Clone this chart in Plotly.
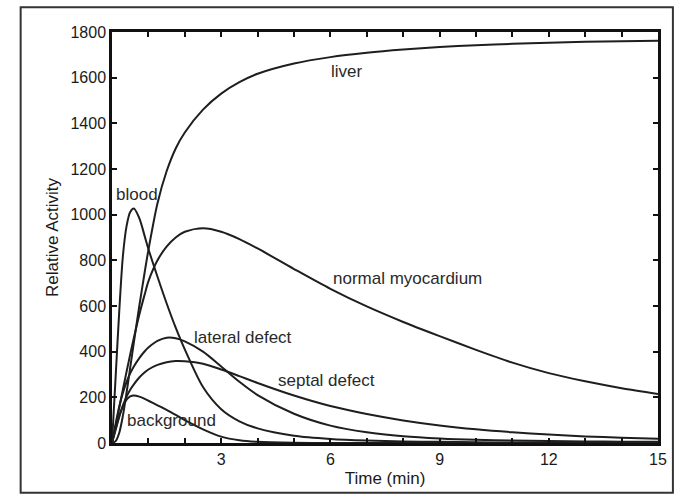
import plotly.graph_objects as go

# Time axis (minutes)
time_min = [0, 0.1, 0.2, 0.3, 0.4, 0.5, 0.6, 0.75, 0.9, 1.0, 1.25, 1.5, 1.75, 2.0,
            2.5, 3.0, 3.5, 4, 5, 6, 7, 8, 9, 10, 11, 12, 13, 14, 15]

liver = [0, 8, 45, 120, 220, 330, 440, 600, 750, 845, 1050, 1190, 1290, 1360,
         1460, 1530, 1580, 1617, 1662, 1690, 1709, 1723, 1734, 1742, 1748, 1753, 1757, 1760, 1762]

blood = [0, 290, 580, 820, 950, 1012, 1027, 985, 905, 850, 728, 612, 505, 410,
         245, 148, 95, 64, 32, 18, 11, 7, 5, 3, 2, 2, 1, 1, 1]

normal_myocardium = [0, 75, 155, 235, 312, 388, 460, 562, 652, 708, 800, 860, 900, 925,
                     940, 925, 893, 852, 762, 675, 598, 530, 468, 408, 352, 306, 270, 240, 215]

lateral_defect = [0, 85, 160, 220, 268, 305, 335, 372, 402, 418, 447, 461, 459, 445,
                  400, 335, 268, 210, 128, 76, 47, 30, 20, 14, 11, 9, 7, 6, 5]

septal_defect = [0, 62, 118, 165, 203, 233, 257, 287, 310, 322, 342, 354, 359, 358,
                 347, 322, 293, 263, 208, 162, 127, 99, 77, 60, 47, 37, 29, 23, 19]

background = [0, 58, 115, 160, 190, 204, 208, 203, 193, 185, 165, 145, 123, 100,
              60, 28, 12, 5, 1, 0, 0, 0, 0, 0, 0, 0, 0, 0, 0]

series = [liver, blood, normal_myocardium, lateral_defect, septal_defect, background]

# Curve labels and their positions (data coordinates)
label_text = ["liver", "blood", "normal myocardium", "lateral defect", "septal defect", "background"]
label_x = [6.45, 0.68, 8.12, 3.6, 5.88, 1.645]
label_y = [1626, 1087, 722, 461, 274, 100]

x_tickvals = [3, 6, 9, 12, 15]
y_tickvals = [0, 200, 400, 600, 800, 1000, 1200, 1400, 1600, 1800]

LINE = "#1e1e1e"
FONT = "Liberation Sans, Arial, Helvetica, sans-serif"

fig = go.Figure()
for ys in series:
    fig.add_trace(go.Scatter(x=time_min, y=ys, mode="lines",
                             line=dict(color=LINE, width=2, shape="spline", smoothing=0.8),
                             showlegend=False, hoverinfo="skip"))

for t, x, y in zip(label_text, label_x, label_y):
    fig.add_annotation(x=x, y=y, text=t, showarrow=False,
                       font=dict(family=FONT, size=17, color="#2a2a2a"),
                       xanchor="center", yanchor="middle")

# outer frame
fig.add_shape(type="rect", xref="paper", yref="paper",
              x0=-0.1673, x1=1.0273, y0=-0.1208, y1=1.0604,
              line=dict(color="#333333", width=2), fillcolor="rgba(0,0,0,0)", layer="below")

fig.update_layout(
    width=679, height=498,
    margin=dict(l=112, r=17, t=32, b=52),
    paper_bgcolor="white", plot_bgcolor="white",
    font=dict(family=FONT, size=16, color="#1a1a1a"),
    showlegend=False,
)

fig.update_xaxes(range=[0, 15], tickvals=x_tickvals, ticks="inside", ticklen=5, tickwidth=2,
                 tickcolor="#111", showline=True, linewidth=2.5, linecolor="#111",
                 mirror="ticks", showgrid=False, zeroline=False,
                 minor=dict(dtick=1, tick0=0, ticks="inside", ticklen=5, tickwidth=2, tickcolor="#111",
                            showgrid=False),
                 title=dict(text="Time (min)", font=dict(size=17), standoff=6),
                 tickfont=dict(size=16))

fig.update_yaxes(range=[0, 1800], tickvals=y_tickvals, ticks="inside", ticklen=5, tickwidth=2,
                 tickcolor="#111", showline=True, linewidth=2.5, linecolor="#111",
                 mirror="ticks", showgrid=False, zeroline=False,
                 title=dict(text="Relative Activity", font=dict(size=17), standoff=8),
                 tickfont=dict(size=16))

fig.write_html("out.html", config={"displayModeBar": False},
               post_script="document.body.style.margin='0px';")
